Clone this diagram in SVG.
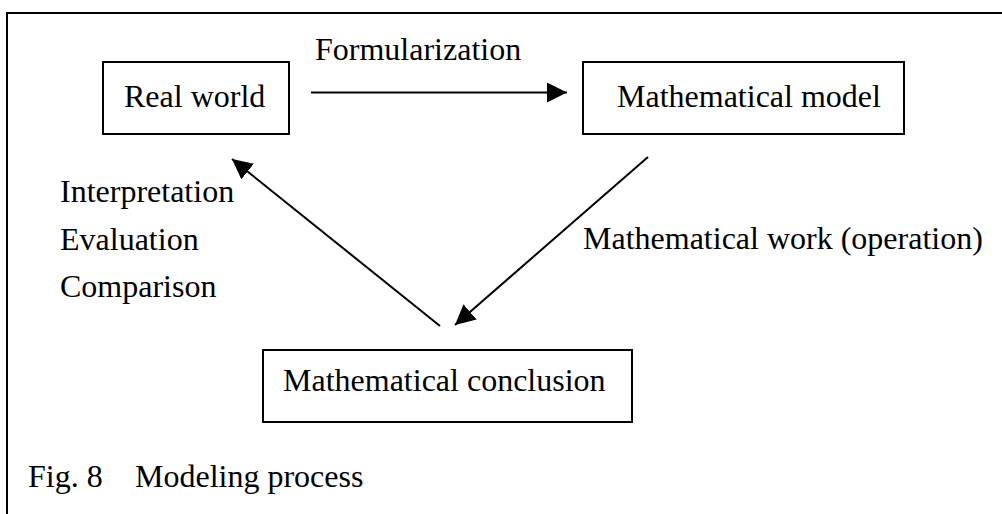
<svg xmlns="http://www.w3.org/2000/svg" width="1002" height="514" viewBox="0 0 1002 514">
<style>
  .box { fill: #fff; stroke: #000; stroke-width: 2; }
  text { font-family: 'Liberation Serif', 'DejaVu Serif', serif; font-size: 32px; fill: #000; }
  .c { stroke: #000; stroke-width: 2; fill: none; }
</style>
<defs>
  <marker id="ah" viewBox="0 0 20 20" refX="20" refY="10" markerWidth="20" markerHeight="20" markerUnits="userSpaceOnUse" orient="auto">
    <path d="M0,0 L20,10 L0,20 Z" fill="#000"/>
  </marker>
</defs>
<rect x="7" y="13" width="1010" height="520" fill="none" stroke="#000" stroke-width="2"/>
<g id="real-world">
  <rect class="box" x="103" y="62" width="186" height="72"/>
  <text x="124" y="107" font-family="Liberation Serif, serif">Real world</text>
</g>
<g id="mathematical-model">
  <rect class="box" x="583" y="62" width="321" height="72"/>
  <text x="617" y="107" font-family="Liberation Serif, serif">Mathematical model</text>
</g>
<g id="mathematical-conclusion">
  <rect class="box" x="263" y="350" width="369" height="72"/>
  <text x="283" y="391" font-family="Liberation Serif, serif">Mathematical conclusion</text>
</g>
<g id="connectors">
  <line class="c" x1="311" y1="92.5" x2="567" y2="92.5" marker-end="url(#ah)"/>
  <line class="c" x1="648" y1="157" x2="455" y2="325" marker-end="url(#ah)"/>
  <line class="c" x1="440" y1="326" x2="232" y2="159" marker-end="url(#ah)"/>
</g>
<g id="labels" font-family="Liberation Serif, serif">
  <text x="315" y="60">Formularization</text>
  <text x="583" y="249">Mathematical work (operation)</text>
  <text x="60" y="202">Interpretation</text>
  <text x="60" y="250">Evaluation</text>
  <text x="60" y="297">Comparison</text>
  <text x="28" y="487">Fig. 8</text>
  <text x="135" y="487">Modeling process</text>
</g>
</svg>
